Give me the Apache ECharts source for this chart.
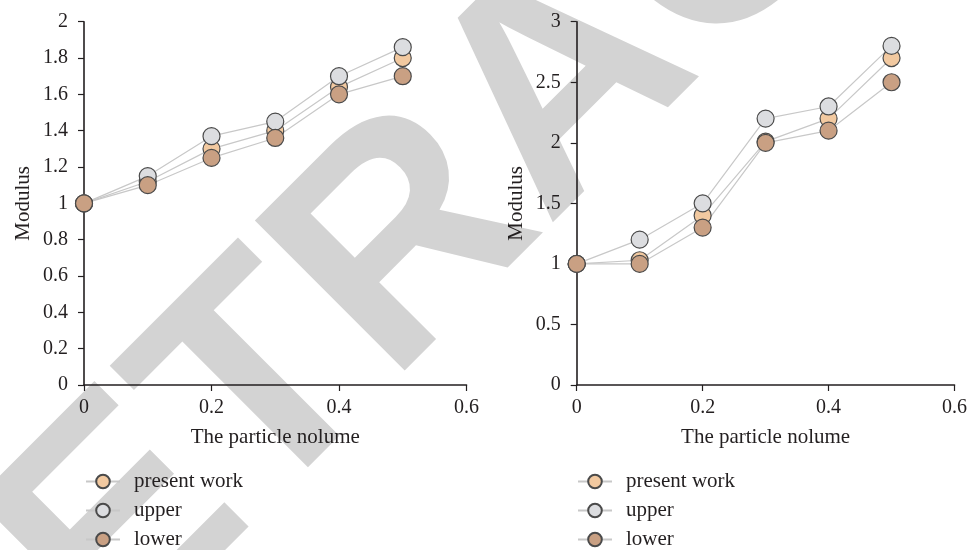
<!DOCTYPE html>
<html>
<head>
<meta charset="utf-8">
<script src="https://cdn.jsdelivr.net/npm/echarts@6/dist/echarts.min.js"></script>
<style>
  html, body { margin: 0; padding: 0; background: #ffffff; }
  #chart { width: 970px; height: 550px; }
</style>
</head>
<body>
<div id="chart"></div>
<script>
// Particle volume fractions shared by both panels
const particleVolume = [0, 0.1, 0.2, 0.3, 0.4, 0.5];
const seriesNames = ['present work', 'upper', 'lower'];

// Left panel: modulus values
const leftPresent = [1, 1.12, 1.30, 1.40, 1.64, 1.80];
const leftUpper   = [1, 1.15, 1.37, 1.45, 1.70, 1.86];
const leftLower   = [1, 1.10, 1.25, 1.36, 1.60, 1.70];

// Right panel: modulus values
const rightPresent = [1, 1.03, 1.40, 2.01, 2.20, 2.70];
const rightUpper   = [1, 1.20, 1.50, 2.20, 2.30, 2.80];
const rightLower   = [1, 1.00, 1.30, 2.00, 2.10, 2.50];

const xTicks = { min: 0, max: 0.6, interval: 0.2 };
const leftYTicks = { min: 0, max: 2, interval: 0.2 };
const rightYTicks = { min: 0, max: 3, interval: 0.5 };

const fills = { 'present work': '#f2c9a0', 'upper': '#dcdde0', 'lower': '#c9a083' };
const ink = '#231f20';
const serif = '"Liberation Serif", "DejaVu Serif", serif';

function pairs(ys) {
  return particleVolume.map((x, i) => [x, ys[i]]);
}

function makeSeries(name, ys, idx) {
  return {
    name: name,
    type: 'line',
    xAxisIndex: idx,
    yAxisIndex: idx,
    data: pairs(ys),
    symbol: 'circle',
    symbolSize: 17,
    lineStyle: { color: '#c8c8c8', width: 1.2 },
    itemStyle: { color: fills[name], borderColor: '#4a4a4a', borderWidth: 1.2 },
    emphasis: { disabled: true }
  };
}

function xAxis(idx) {
  return {
    type: 'value', gridIndex: idx,
    min: xTicks.min, max: xTicks.max, interval: xTicks.interval,
    name: 'The particle nolume', nameLocation: 'middle', nameGap: 42,
    nameTextStyle: { fontFamily: serif, fontSize: 21, color: ink },
    axisLine: { show: true, lineStyle: { color: ink, width: 1.6 } },
    axisTick: { show: true, inside: false, length: 6, lineStyle: { color: ink, width: 1.2 } },
    axisLabel: { fontFamily: serif, fontSize: 20, color: ink, margin: 13 },
    splitLine: { show: false }
  };
}

function yAxis(idx, ticks) {
  return {
    type: 'value', gridIndex: idx,
    min: ticks.min, max: ticks.max, interval: ticks.interval,
    name: 'Modulus', nameLocation: 'middle', nameGap: 50,
    nameTextStyle: { fontFamily: serif, fontSize: 21, color: ink },
    axisLine: { show: true, lineStyle: { color: ink, width: 1.6 } },
    axisTick: { show: true, inside: false, length: 6, lineStyle: { color: ink, width: 1.2 } },
    axisLabel: { fontFamily: serif, fontSize: 20, color: ink, margin: 16 },
    splitLine: { show: false }
  };
}

function legend(left) {
  return {
    left: left, top: 471, orient: 'vertical',
    height: 79,
    padding: 0,
    data: seriesNames,
    itemWidth: 34, itemHeight: 17, itemGap: 8,
    selectedMode: false,
    textStyle: { fontFamily: serif, fontSize: 21, color: ink, padding: [0, 0, 0, 9] }
  };
}

const chart = echarts.init(document.getElementById('chart'), null, { renderer: 'canvas' });
chart.setOption({
  animation: false,
  backgroundColor: '#ffffff',
  graphic: [{
    type: 'text',
    x: 566, y: 89,
    rotation: Math.PI / 4,
    z: -10,
    silent: true,
    style: {
      text: 'RETRACTED',
      font: 'bold 308px "Liberation Sans", Arial, sans-serif',
      fill: '#d3d3d3',
      textAlign: 'center',
      textVerticalAlign: 'middle'
    }
  }],
  grid: [
    { left: 84, right: 503.5, top: 21.7, bottom: 165 },
    { left: 576.7, right: 11.7, top: 21.7, bottom: 165 }
  ],
  xAxis: [xAxis(0), xAxis(1)],
  yAxis: [yAxis(0, leftYTicks), yAxis(1, rightYTicks)],
  legend: [legend(85), legend(577)],
  series: [
    makeSeries('present work', leftPresent, 0),
    makeSeries('upper', leftUpper, 0),
    makeSeries('lower', leftLower, 0),
    makeSeries('present work', rightPresent, 1),
    makeSeries('upper', rightUpper, 1),
    makeSeries('lower', rightLower, 1)
  ]
});
</script>
</body>
</html>
